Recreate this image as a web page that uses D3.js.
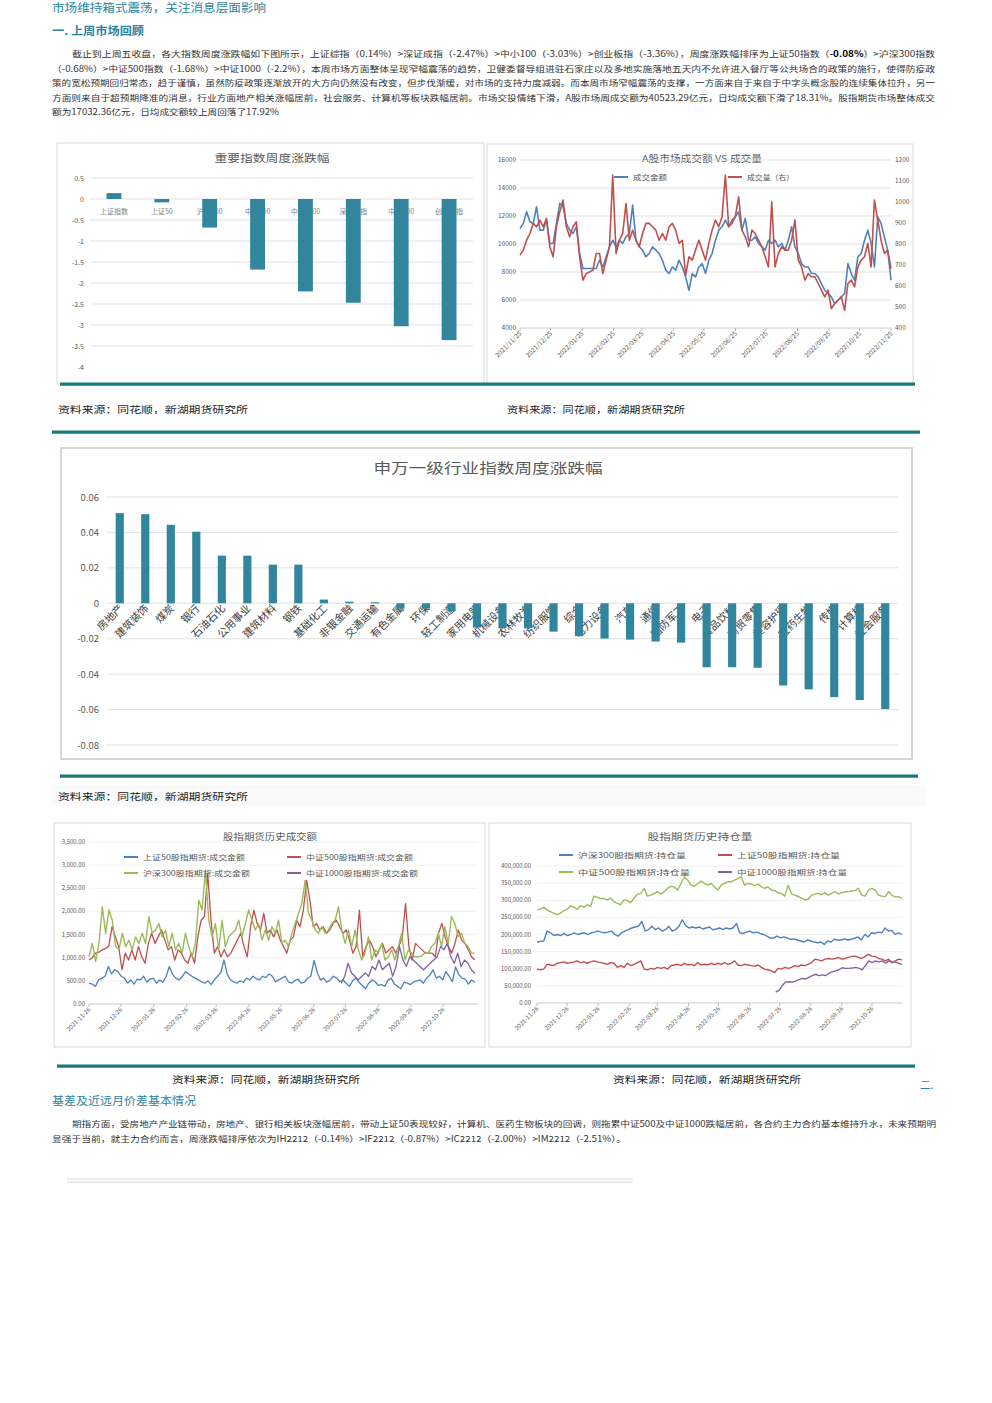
<!DOCTYPE html>
<html>
<head>
<meta charset="utf-8">
<script src="https://cdn.jsdelivr.net/npm/d3@7"></script>
<style>
body { margin: 0; background: #fff; }
svg text { font-family: "Noto Sans CJK SC", "Noto Sans", sans-serif; }
</style>
</head>
<body>
<svg id="page" width="992" height="1403"></svg>
<script>
// ---- chart 1: 重要指数周度涨跌幅
var idxNames = ["上证指数", "上证50", "沪深300", "中证500", "中证1000", "深证成指", "中小100", "创业板指"];
var idxChg = [0.14, -0.08, -0.68, -1.68, -2.2, -2.47, -3.03, -3.36];
var idxTicks = [0.5, 0, -0.5, -1, -1.5, -2, -2.5, -3, -3.5, -4];

// ---- chart 2: A股市场成交额 VS 成交量
var volTicks = ["2021/11/25", "2021/12/25", "2022/01/25", "2022/02/25", "2022/03/25", "2022/04/25", "2022/05/25",
    "2022/06/25", "2022/07/25", "2022/08/25", "2022/09/25", "2022/10/25", "2022/11/25"];
var amtTicks = [4000, 6000, 8000, 10000, 12000, 14000, 16000];
var shrTicks = [400, 500, 600, 700, 800, 900, 1000, 1100, 1200];
var turnover = [11110, 11470, 12300, 11590, 11470, 12660, 10990, 10990, 11710, 10040, 10040, 11470, 12900, 12660, 11470,
    10990, 10750, 11230, 9320, 8250, 8250, 8250, 8250, 8250, 8840, 8360, 9080, 9800, 10270, 9800, 10270, 10040, 10510,
    10750, 12780, 10270, 9800, 9560, 9080, 9320, 9800, 9560, 9320, 8840, 8130, 7890, 8360, 8130, 8840, 8360, 7650, 6700,
    7890, 7650, 8360, 8600, 7890, 8840, 9320, 10270, 10990, 11230, 11710, 11230, 11710, 11940, 12300, 10990, 11830, 10270,
    10270, 10510, 10040, 9800, 9560, 10270, 10040, 10270, 9800, 10040, 9560, 10270, 11230, 9800, 9320, 8600, 8360, 8360,
    7890, 7890, 7650, 7170, 6700, 6460, 6220, 5740, 5980, 6220, 6460, 8600, 7890, 7410, 9080, 9320, 10270, 10990, 10040,
    8360, 11940, 11470, 10510, 9560, 7410];
var volume = [747, 771, 818, 850, 898, 882, 914, 882, 922, 787, 739, 882, 954, 1009, 882, 834, 882, 906, 739, 628, 659,
    667, 675, 755, 755, 659, 723, 787, 1128, 755, 818, 850, 993, 818, 866, 818, 787, 850, 898, 898, 882, 866, 818, 850,
    818, 882, 898, 866, 803, 818, 651, 739, 723, 771, 818, 771, 723, 803, 866, 914, 882, 930, 1128, 882, 898, 930, 1025,
    866, 834, 787, 866, 850, 818, 787, 739, 691, 1001, 691, 755, 787, 771, 771, 818, 914, 723, 691, 628, 659, 644, 644,
    612, 580, 548, 580, 492, 516, 532, 548, 484, 612, 628, 596, 691, 723, 739, 803, 691, 1009, 914, 818, 755, 771, 683];

// ---- chart 3: 申万一级行业指数周度涨跌幅
var swNames = ["房地产", "建筑装饰", "煤炭", "银行", "石油石化", "公用事业", "建筑材料", "钢铁", "基础化工", "非银金融",
    "交通运输", "有色金属", "环保", "轻工制造", "家用电器", "机械设备", "农林牧渔", "纺织服饰", "综合", "电力设备", "汽车",
    "通信", "国防军工", "电子", "食品饮料", "商贸零售", "美容护理", "医药生物", "传媒", "计算机", "社会服务"];
var swChg = [0.0509, 0.0503, 0.0443, 0.0404, 0.0269, 0.0269, 0.0218, 0.0218, 0.0021, 0.0009, 0.0006, -0.003, -0.003,
    -0.0045, -0.0137, -0.0141, -0.0141, -0.016, -0.0186, -0.0199, -0.0205, -0.0216, -0.0222, -0.0361, -0.0361, -0.0364,
    -0.0464, -0.0486, -0.053, -0.0546, -0.0597];
var swTicks = [0.06, 0.04, 0.02, 0, -0.02, -0.04, -0.06, -0.08];

// ---- chart 4 / 5: 股指期货
var futTicks = ["2021-11-26", "2021-12-26", "2022-01-26", "2022-02-26", "2022-03-26", "2022-04-26", "2022-05-26",
    "2022-06-26", "2022-07-26", "2022-08-26", "2022-09-26", "2022-10-26"];
var amountTicks = [0, 500, 1000, 1500, 2000, 2500, 3000, 3500];
var oiTicks = [0, 50000, 100000, 150000, 200000, 250000, 300000, 350000, 400000];

var ihAmount = [450, 430, 380, 520, 560, 600, 810, 650, 740, 700, 600, 560, 450, 520, 430, 540, 520, 600, 470, 540, 560,
    450, 520, 470, 600, 810, 640, 560, 520, 590, 700, 650, 600, 560, 520, 480, 450, 500, 420, 520, 600, 680, 950, 640, 520,
    480, 450, 500, 470, 560, 520, 600, 550, 520, 600, 570, 650, 600, 480, 520, 560, 600, 480, 450, 500, 540, 450, 470, 560,
    600, 940, 680, 520, 560, 470, 520, 600, 560, 480, 520, 450, 380, 500, 560, 470, 400, 330, 450, 520, 480, 400, 420, 380,
    520, 560, 430, 380, 330, 470, 450, 420, 480, 500, 520, 450, 560, 620, 740, 560, 600, 520, 700, 600, 480, 800, 640, 560,
    540, 430, 520, 470];
var icAmount = [950, 1000, 1100, 1120, 1170, 1200, 1250, 1670, 1450, 1240, 740, 1100, 950, 1170, 950, 1240, 1020, 880,
    1310, 1530, 1310, 1450, 1600, 1380, 1170, 1240, 950, 1170, 1100, 950, 880, 1100, 880, 1450, 1810, 1890, 2820, 1810,
    1100, 1240, 1020, 1170, 1020, 1100, 1240, 1380, 1530, 1240, 1020, 1670, 2030, 1740, 1600, 1960, 1530, 1600, 1450, 1600,
    1380, 1240, 1100, 1380, 1450, 1810, 1670, 2030, 2670, 2240, 1670, 1740, 1600, 1670, 1530, 1600, 1740, 1810, 1670, 1530,
    1600, 1380, 1100, 1240, 2030, 1020, 1240, 1380, 1240, 1020, 1170, 1310, 1100, 1170, 1240, 1100, 1240, 1450, 2170, 1240,
    950, 1310, 1240, 1170, 1100, 1100, 1100, 1020, 1530, 1740, 1450, 1240, 1100, 1310, 1600, 1380, 1310, 1170, 1020, 950];
var ifAmount = [1020, 1310, 920, 1310, 2100, 1530, 2030, 1810, 1240, 1170, 1530, 1240, 1380, 1170, 1450, 1310, 1530, 1310,
    1890, 1530, 1600, 1740, 1450, 1600, 1240, 1530, 1170, 1310, 1100, 1530, 1240, 1020, 1310, 2240, 2030, 2890, 1810, 1450,
    1740, 1170, 1810, 1240, 1450, 1530, 1600, 1810, 1450, 1740, 2030, 1810, 1600, 1740, 1380, 1600, 1380, 1670, 1530, 1810,
    1310, 1380, 1240, 1530, 1740, 1960, 2170, 2670, 1960, 1810, 1600, 1530, 1670, 1530, 1600, 1740, 1810, 2100, 1600, 1310,
    1600, 1240, 1600, 1170, 950, 1100, 1450, 950, 1170, 1100, 1310, 950, 1020, 1170, 950, 1240, 1530, 950, 1170, 1100, 1020,
    1020, 1040, 1100, 1100, 1240, 1310, 1530, 1240, 1670, 1310, 1890, 1740, 1450, 1530, 1310, 1240, 1100, 1100];
var imAmount = [450, 600, 880, 670, 600, 520, 600, 670, 600, 810, 740, 950, 740, 810, 880, 600, 810, 1240, 950, 810, 1020,
    950, 880, 810, 740, 810, 880, 950, 1020, 1240, 1170, 1310, 1020, 880, 1100, 810, 950, 880, 740, 660];

var ifOI = [178000, 180000, 181000, 210000, 205000, 197000, 200000, 197000, 203000, 197000, 200000, 205000, 200000, 203000,
    205000, 200000, 205000, 207000, 210000, 207000, 205000, 207000, 210000, 200000, 195000, 205000, 210000, 214000, 219000,
    222000, 224000, 238000, 210000, 214000, 224000, 214000, 219000, 210000, 214000, 224000, 210000, 214000, 224000, 243000,
    226000, 219000, 222000, 219000, 222000, 216000, 219000, 222000, 214000, 216000, 219000, 214000, 219000, 216000, 219000,
    232000, 205000, 203000, 207000, 210000, 205000, 207000, 203000, 200000, 195000, 190000, 190000, 195000, 190000, 193000,
    190000, 186000, 187000, 184000, 181000, 178000, 184000, 181000, 178000, 176000, 178000, 171000, 181000, 178000, 186000,
    184000, 184000, 187000, 184000, 186000, 189000, 193000, 184000, 200000, 193000, 205000, 203000, 207000, 205000, 219000,
    210000, 212000, 200000, 205000, 200000];
var ihOI = [99000, 97000, 99000, 113000, 111000, 109000, 116000, 118000, 120000, 116000, 118000, 120000, 123000, 118000,
    120000, 116000, 120000, 123000, 120000, 118000, 116000, 113000, 118000, 116000, 104000, 109000, 104000, 116000, 109000,
    113000, 118000, 123000, 99000, 97000, 101000, 99000, 104000, 101000, 104000, 99000, 109000, 111000, 113000, 109000,
    116000, 111000, 113000, 109000, 118000, 111000, 113000, 111000, 116000, 112000, 116000, 113000, 118000, 113000, 116000,
    123000, 111000, 109000, 113000, 111000, 109000, 107000, 111000, 104000, 99000, 97000, 94000, 89000, 101000, 99000,
    104000, 101000, 104000, 109000, 107000, 111000, 109000, 113000, 118000, 128000, 126000, 123000, 128000, 130000, 128000,
    130000, 133000, 128000, 130000, 133000, 136000, 137000, 133000, 130000, 136000, 142000, 137000, 136000, 130000, 128000,
    123000, 128000, 118000, 123000, 128000, 126000];
var icOI = [272000, 274000, 280000, 272000, 267000, 262000, 258000, 262000, 270000, 274000, 284000, 280000, 274000, 284000,
    280000, 287000, 282000, 312000, 309000, 305000, 305000, 301000, 306000, 296000, 291000, 287000, 301000, 299000, 293000,
    306000, 318000, 320000, 335000, 312000, 315000, 320000, 325000, 318000, 325000, 335000, 341000, 339000, 330000, 349000,
    368000, 359000, 344000, 341000, 349000, 356000, 349000, 344000, 349000, 339000, 330000, 344000, 349000, 354000, 354000,
    359000, 363000, 368000, 344000, 349000, 347000, 343000, 347000, 339000, 335000, 339000, 330000, 328000, 322000, 320000,
    312000, 344000, 318000, 315000, 311000, 306000, 301000, 303000, 315000, 318000, 320000, 316000, 322000, 315000, 320000,
    325000, 318000, 322000, 325000, 325000, 327000, 328000, 335000, 315000, 312000, 330000, 335000, 330000, 315000, 312000,
    311000, 325000, 315000, 309000, 311000, 305000];
var imOI = [32000, 37000, 51000, 61000, 62000, 61000, 64000, 68000, 72000, 70000, 75000, 80000, 84000, 80000, 82000, 80000,
    87000, 91000, 94000, 97000, 103000, 101000, 101000, 102000, 104000, 102000, 97000, 109000, 123000, 118000, 123000,
    120000, 123000, 116000, 123000, 118000, 120000, 116000, 113000];

var TEAL = "#17797a", BAR = "#31859c", GRID = "#d9d9d9", TXT = "#595959";
var BLUE = "#4f81bd", RED = "#c0504d", GREEN = "#9bbb59", PURPLE = "#8064a2";

var svg = d3.select("#page");
var parseDash = d3.timeParse("%Y-%m-%d");
var parseSlash = d3.timeParse("%Y/%m/%d");

function txt(x, y, s, size, color, anchor, len) {
    var t = svg.append("text")
        .attr("x", x).attr("y", y)
        .attr("font-size", size)
        .attr("fill", color)
        .attr("text-anchor", anchor || "start")
        .text(s);
    if (len) t.attr("textLength", len).attr("lengthAdjust", "spacingAndGlyphs");
    return t;
}

function frame(x, y, w, h, color, sw) {
    svg.append("rect").attr("x", x).attr("y", y).attr("width", w).attr("height", h)
        .attr("fill", "none").attr("stroke", color || GRID).attr("stroke-width", sw || 1);
}

function tealLine(x1, x2, y) {
    svg.append("rect").attr("x", x1).attr("y", y - 1.5).attr("width", x2 - x1).attr("height", 3.2).attr("fill", TEAL);
}

function gridLine(x1, x2, y, color) {
    svg.append("line").attr("x1", x1).attr("x2", x2).attr("y1", y).attr("y2", y)
        .attr("stroke", color || GRID).attr("stroke-width", 0.8);
}

// series with evenly spaced points between two dates
function series(vals, start, end, xs, ys, color, w) {
    var t = d3.scaleLinear().domain([0, vals.length - 1]).range([start.getTime(), end.getTime()]);
    var line = d3.line()
        .x(function (d, i) { return xs(t(i)); })
        .y(function (d) { return ys(d); });
    svg.append("path").attr("d", line(vals))
        .attr("fill", "none").attr("stroke", color).attr("stroke-width", w)
        .attr("stroke-linejoin", "round");
}

function legend(x1, y, color, label, len) {
    svg.append("line").attr("x1", x1).attr("x2", x1 + 14).attr("y1", y).attr("y2", y)
        .attr("stroke", color).attr("stroke-width", 2);
    txt(x1 + 19, y + 2.5, label, 7, TXT, "start", len);
}

// ================= page text =================
var HEAD = "#2a83a3";
txt(52, 12, "市场维持箱式震荡，关注消息层面影响", 11.5, HEAD, "start", 214);
txt(52, 35, "一. 上周市场回顾", 11, HEAD, "start", 92).attr("font-weight", "bold");

var p1 = [
    { x: 72, w: 863, s: ["截止到上周五收盘，各大指数周度涨跌幅如下图所示，上证综指（0.14%）>深证成指（-2.47%）>中小100（-3.03%）>创业板指（-3.36%），周度涨跌幅排序为上证50指数（", "-0.08%", "）>沪深300指数"] },
    { x: 52, w: 883, s: ["（-0.68%）>中证500指数（-1.68%）>中证1000（-2.2%），本周市场方面整体呈现窄幅震荡的趋势，卫健委督导组进驻石家庄以及多地实施落地五天内不允许进入餐厅等公共场合的政策的施行，使得防疫政"] },
    { x: 52, w: 883, s: ["策的宽松预期回归常态，趋于谨慎，虽然防疫政策逐渐放开的大方向仍然没有改变，但步伐渐缓，对市场的支持力度减弱。而本周市场窄幅震荡的支撑，一方面来自于来自于中字头概念股的连续集体拉升，另一"] },
    { x: 52, w: 883, s: ["方面则来自于超预期降准的消息，行业方面地产相关涨幅居前，社会服务、计算机等板块跌幅居前。市场交投情绪下滑，A股市场周成交额为40523.29亿元，日均成交额下滑了18.31%。股指期货市场整体成交"] },
    { x: 52, w: 227, s: ["额为17032.36亿元，日均成交额较上周回落了17.92%"] }
];
p1.forEach(function (d, i) {
    var t = svg.append("text").attr("x", d.x).attr("y", 57 + i * 14.6)
        .attr("font-size", 8.3).attr("fill", "#333")
        .attr("textLength", d.w).attr("lengthAdjust", "spacingAndGlyphs");
    d.s.forEach(function (s, k) {
        t.append("tspan").text(s).attr("font-weight", k === 1 ? "bold" : null).attr("fill", k === 1 ? "#000" : null);
    });
});

// ================= chart 1 =================
frame(57, 143, 427, 241);
txt(272, 162, "重要指数周度涨跌幅", 10, TXT, "middle", 115);
var y1 = d3.scaleLinear().domain([-4, 0.5]).range([367, 178]);
var x1 = d3.scaleBand().domain(idxNames).range([90, 473]).paddingInner(0.69).paddingOuter(0.345);
idxTicks.forEach(function (t) {
    if (t > -4) gridLine(90, 473, y1(t));
    txt(84, y1(t) + 2.5, String(t), 7, TXT, "end");
});
idxNames.forEach(function (n) {
    txt(x1(n) + x1.bandwidth() / 2, 213.5, n, 7, "#7f7f7f", "middle");
});
svg.append("g").selectAll("rect").data(idxChg).enter().append("rect")
    .attr("x", function (d, i) { return x1(idxNames[i]); })
    .attr("y", function (d) { return y1(Math.max(0, d)); })
    .attr("width", x1.bandwidth())
    .attr("height", function (d) { return Math.abs(y1(d) - y1(0)); })
    .attr("fill", BAR);

// ================= chart 2 =================
frame(487, 144, 426, 240);
txt(702, 162, "A股市场成交额 VS 成交量", 9.5, TXT, "middle", 120);
var x2 = d3.scaleTime().domain([parseSlash("2021/11/25"), parseSlash("2022/11/25")]).range([520, 891]);
var yL = d3.scaleLinear().domain([4000, 16000]).range([328, 160]);
var yR = d3.scaleLinear().domain([400, 1200]).range([328, 160]);
amtTicks.forEach(function (t) {
    gridLine(520, 891, yL(t), t === 4000 ? "#bfbfbf" : GRID);
    txt(516, yL(t) + 2, t, 6.5, TXT, "end");
});
shrTicks.forEach(function (t) {
    txt(895, yR(t) + 2, t, 6.5, TXT, "start");
});
volTicks.forEach(function (s) {
    var xx = x2(parseSlash(s));
    svg.append("line").attr("x1", xx).attr("x2", xx).attr("y1", 328).attr("y2", 331).attr("stroke", "#bfbfbf");
    txt(xx + 2, 334, s, 6.5, TXT, "end").attr("transform", "rotate(-45," + (xx + 2) + ",334)");
});
series(turnover, parseSlash("2021/11/25"), parseSlash("2022/11/25"), x2, yL, BLUE, 1.6);
series(volume, parseSlash("2021/11/25"), parseSlash("2022/11/25"), x2, yR, RED, 1.6);
legend(614, 177, BLUE, "成交金额", 34);
legend(728, 177, RED, "成交量（右）", 47);

tealLine(60, 915, 384);
txt(58, 413, "资料来源：同花顺，新湖期货研究所", 9.5, "#222", "start", 190);
txt(507, 413, "资料来源：同花顺，新湖期货研究所", 9.5, "#222", "start", 178);
tealLine(52, 920, 432);

// ================= chart 3 =================
frame(61, 448, 851, 311, "#d6d6d6", 2);
txt(488, 473, "申万一级行业指数周度涨跌幅", 14, TXT, "middle", 229);
var y3 = d3.scaleLinear().domain([-0.08, 0.06]).range([745, 497]);
var x3 = d3.scaleBand().domain(swNames).range([107, 898]).paddingInner(0.68).paddingOuter(0.34);
swTicks.forEach(function (t) {
    gridLine(107, 898, y3(t));
    txt(99, y3(t) + 3.5, t === 0 ? "0" : t.toFixed(2), 9.5, TXT, "end");
});
swNames.forEach(function (n) {
    var cx = x3(n) + x3.bandwidth() / 2 + 4;
    txt(cx, 609, n, 10.5, "#404040", "end").attr("transform", "rotate(-45," + cx + ",609)");
});
svg.append("g").selectAll("rect").data(swChg).enter().append("rect")
    .attr("x", function (d, i) { return x3(swNames[i]); })
    .attr("y", function (d) { return y3(Math.max(0, d)); })
    .attr("width", x3.bandwidth())
    .attr("height", function (d) { return Math.max(0.8, Math.abs(y3(d) - y3(0))); })
    .attr("fill", BAR);

tealLine(60, 918, 776);
svg.append("rect").attr("x", 52).attr("y", 785).attr("width", 874).attr("height", 21).attr("fill", "#fafafa");
txt(58, 800, "资料来源：同花顺，新湖期货研究所", 9.5, "#222", "start", 190);

// ================= chart 4 =================
var start4 = parseDash("2021-11-26"), end4 = parseDash("2022-11-25"), imStart = parseDash("2022-07-22");
frame(54, 823, 431, 224);
txt(270, 840, "股指期货历史成交额", 9, TXT, "middle", 94);
var x4 = d3.scaleTime().domain([start4, parseDash("2022-11-28")]).range([89, 478]);
var y4 = d3.scaleLinear().domain([0, 3500]).range([1004, 842]);
amountTicks.forEach(function (t) {
    gridLine(89, 478, y4(t), t === 0 ? "#bfbfbf" : "#ececec");
    txt(85, y4(t) + 2, d3.format(",.2f")(t), 6, TXT, "end");
});
futTicks.forEach(function (s) {
    var xx = x4(parseDash(s));
    svg.append("line").attr("x1", xx).attr("x2", xx).attr("y1", 1004).attr("y2", 1007).attr("stroke", "#bfbfbf");
    txt(xx + 2, 1010, s, 6, TXT, "end").attr("transform", "rotate(-45," + (xx + 2) + ",1010)");
});
series(icAmount, start4, end4, x4, y4, RED, 1.3);
series(ifAmount, start4, end4, x4, y4, GREEN, 1.4);
series(imAmount, imStart, end4, x4, y4, PURPLE, 1.3);
series(ihAmount, start4, end4, x4, y4, BLUE, 1.3);
legend(124, 857, BLUE, "上证50股指期货:成交金额", 102);
legend(287, 857, RED, "中证500股指期货:成交金额", 107);
legend(124, 873, GREEN, "沪深300股指期货:成交金额", 107);
legend(287, 873, PURPLE, "中证1000股指期货:成交金额", 112);

// ================= chart 5 =================
frame(489, 823, 422, 224);
txt(700, 840, "股指期货历史持仓量", 9, TXT, "middle", 105);
var x5 = d3.scaleTime().domain([start4, parseDash("2022-11-26")]).range([537, 903]);
var y5 = d3.scaleLinear().domain([0, 400000]).range([1003, 866]);
oiTicks.forEach(function (t) {
    gridLine(537, 903, y5(t), t === 0 ? "#bfbfbf" : "#ececec");
    txt(531, y5(t) + 2, d3.format(",.2f")(t), 6, TXT, "end");
});
futTicks.forEach(function (s) {
    var xx = x5(parseDash(s));
    svg.append("line").attr("x1", xx).attr("x2", xx).attr("y1", 1003).attr("y2", 1006).attr("stroke", "#bfbfbf");
    txt(xx + 2, 1009, s, 6, TXT, "end").attr("transform", "rotate(-45," + (xx + 2) + ",1009)");
});
series(icOI, start4, end4, x5, y5, GREEN, 1.4);
series(ifOI, start4, end4, x5, y5, BLUE, 1.4);
series(ihOI, start4, end4, x5, y5, RED, 1.4);
series(imOI, imStart, end4, x5, y5, PURPLE, 1.4);
legend(559, 855, BLUE, "沪深300股指期货:持仓量", 108);
legend(718, 855, RED, "上证50股指期货:持仓量", 103);
legend(559, 872, GREEN, "中证500股指期货:持仓量", 112);
legend(718, 872, PURPLE, "中证1000股指期货:持仓量", 110);

tealLine(57, 915, 1066);
txt(172, 1083, "资料来源：同花顺，新湖期货研究所", 9.5, "#222", "start", 188);
txt(613, 1083, "资料来源：同花顺，新湖期货研究所", 9.5, "#222", "start", 188);

// ================= section two =================
txt(920, 1089, "二.", 10.5, HEAD, "start");
txt(52, 1105, "基差及近远月价差基本情况", 11, HEAD, "start", 144);
var p2 = [
    { x: 72, w: 864, s: "期指方面，受房地产产业链带动，房地产、银行相关板块涨幅居前，带动上证50表现较好，计算机、医药生物板块的回调，则拖累中证500及中证1000跌幅居前，各合约主力合约基本维持升水，未来预期明" },
    { x: 52, w: 574, s: "显强于当前，就主力合约而言，周涨跌幅排序依次为IH2212（-0.14%）>IF2212（-0.87%）>IC2212（-2.00%）>IM2212（-2.51%）。" }
];
p2.forEach(function (d, i) {
    txt(d.x, 1127 + i * 15, d.s, 8.3, "#333", "start", d.w);
});

gridLine(67, 633, 1179, "#cfcfcf");
gridLine(67, 633, 1182, "#cfcfcf");
</script>
</body>
</html>
